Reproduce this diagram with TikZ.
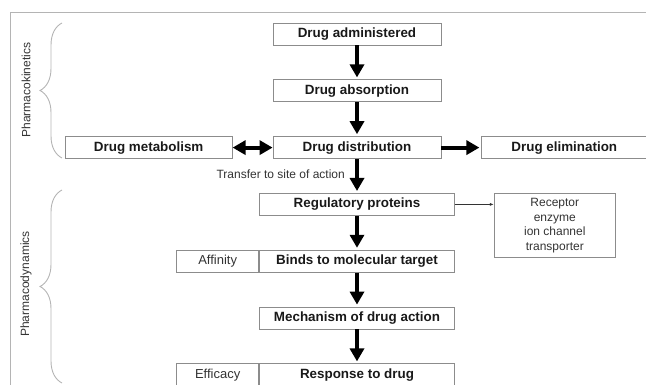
\documentclass[tikz,border=0pt]{standalone}
\usepackage{fontspec}
\setmainfont{Liberation Sans}
\usetikzlibrary{positioning,arrows.meta,decorations.pathreplacing}
\definecolor{edgegray}{HTML}{8C8C8C}
\definecolor{framegray}{HTML}{B4B4B4}
\definecolor{textgray}{HTML}{333333}
\begin{document}
\begin{tikzpicture}[x=1pt,y=-1pt]
\tikzstyle{main}=[rectangle, draw=edgegray, line width=0.8pt, minimum width=168pt, minimum height=22pt, inner sep=0pt, font=\fontsize{13.4}{16}\selectfont\bfseries, text=black!90, node distance=34pt]
\tikzstyle{wide}=[main, minimum width=195pt]
\tikzstyle{side}=[rectangle, draw=edgegray, line width=0.8pt, minimum width=82pt, minimum height=22pt, inner sep=0pt, font=\fontsize{13}{15}\selectfont, text=textgray]
\tikzstyle{note}=[font=\fontsize{12}{14.5}\selectfont, text=textgray, inner sep=0pt]
\tikzstyle{connect}=[-{Triangle[length=13pt,width=14pt]}, line width=4pt, shorten >=2pt]
\tikzstyle{both}=[{Triangle[length=13pt,width=14pt]}-{Triangle[length=13pt,width=14pt]}, line width=4pt]
\tikzstyle{thin}=[-{Latex[length=4pt,width=3pt]}, line width=0.8pt, draw=textgray]
\tikzstyle{brace}=[decorate, decoration={brace, amplitude=22pt}, draw=framegray, line width=0.9pt]
\useasboundingbox (0,0) rectangle (646,385);
\draw[framegray, line width=0.9pt] (10,385) -- (10,12) -- (646,12);
  \node[main] (adm) at (357,34) {Drug administered};
  \node[main] (abs) [below=of adm] {Drug absorption};
  \node[main] (dist) [below=of abs] {Drug distribution};
  \node[main, minimum width=167pt] (met) [left=40pt of dist] {Drug metabolism};
  \node[main, minimum width=165pt] (elim) [right=40pt of dist] {Drug elimination};
  \node[wide] (reg) [below=of dist] {Regulatory proteins};
  \node[wide] (bind) [below=of reg] {Binds to molecular target};
  \node[wide] (mech) [below=of bind] {Mechanism of drug action};
  \node[wide] (resp) [below=of mech] {Response to drug};
  \node[side] (aff) [left=0pt of bind] {Affinity};
  \node[side] (eff) [left=0pt of resp] {Efficacy};
  \node[rectangle, draw=edgegray, line width=0.8pt, minimum width=121pt, minimum height=64pt, note, align=center] (rec) [below right=0pt and 39pt of reg.north east] {Receptor\\enzyme\\ion channel\\transporter};
  \node[note, anchor=east] (tr) at (345,174) {Transfer to site of action};
  \draw[connect] (adm) -- (abs);
  \draw[connect] (abs) -- (dist);
  \draw[connect] (dist) -- (reg);
  \draw[connect] (reg) -- (bind);
  \draw[connect] (bind) -- (mech);
  \draw[connect] (mech) -- (resp);
  \draw[connect] (dist) -- (elim);
  \draw[both] (met) -- (dist);
  \draw[thin] (reg.east) -- (rec.west |- reg.east);
  % braces at the side
  \draw[brace] (62,158) -- (62,23);
  \draw[brace] (62,383) -- (62,190);
  \node[note, rotate=90] (pk) at (26,90) {Pharmacokinetics};
  \node[note, rotate=90] (pd) at (26,284) {Pharmacodynamics};
\end{tikzpicture}
\end{document}
